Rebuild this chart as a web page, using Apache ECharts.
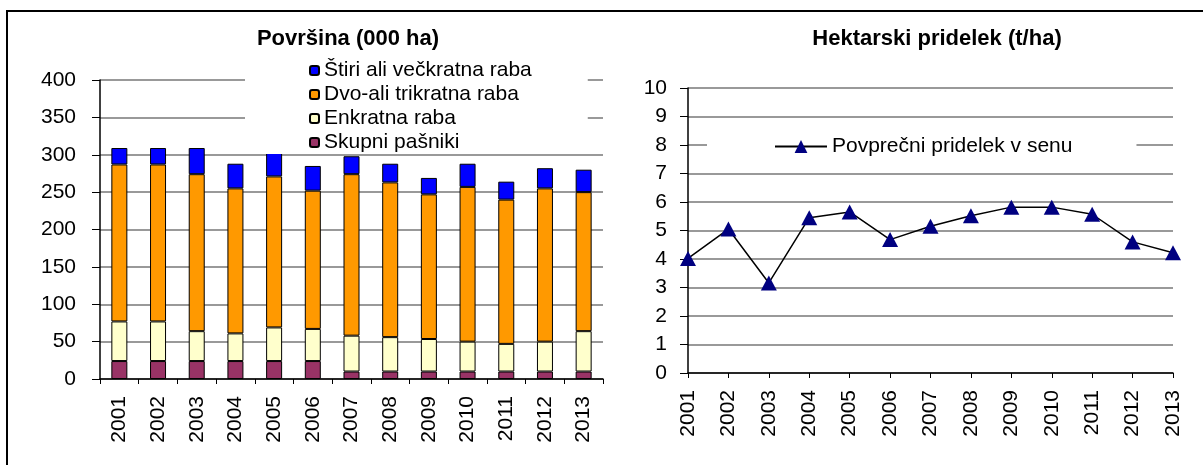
<!DOCTYPE html>
<html>
<head>
<meta charset="utf-8">
<script src="https://cdn.jsdelivr.net/npm/echarts@6/dist/echarts.min.js"></script>
<style>
  html, body { margin: 0; padding: 0; background: #fff; }
  #chart { width: 1203px; height: 465px; }
</style>
</head>
<body>
<div id="chart"></div>
<script>
const years = ['2001', '2002', '2003', '2004', '2005', '2006', '2007', '2008', '2009', '2010', '2011', '2012', '2013']
// površina (000 ha), po načinu rabe
const skupniPasniki = [24, 24, 24, 24, 24, 24, 10, 10, 10, 10, 10, 10, 10]
const enkratnaRaba = [53, 53, 40, 37, 45, 43, 48, 46, 43.5, 40, 37, 40, 54]
const dvoTrikratnaRaba = [210, 210, 210, 194, 202, 185, 216, 207, 193.5, 207, 193, 205, 186]
const stiriVeckratnaRaba = [22, 22, 35, 33, 32, 33, 24, 25, 22, 31, 24, 27, 30]
// hektarski pridelek (t/ha)
const povprecniPridelek = [4.02, 5.05, 3.16, 5.45, 5.65, 4.68, 5.15, 5.52, 5.82, 5.82, 5.57, 4.6, 4.22]

const font = 'Liberation Sans, Arial, sans-serif'
const gridLine = { show: true, lineStyle: { color: '#999', width: 2 } }
const axisLine = { show: true, lineStyle: { color: '#000', width: 1.5 } }

function barSeries (name, data, color) {
  return {
    name: name,
    type: 'bar',
    stack: 'povrsina',
    xAxisIndex: 0,
    yAxisIndex: 0,
    barWidth: 16,
    data: data,
    itemStyle: { color: color, borderColor: '#000', borderWidth: 1 }
  }
}

const chart = echarts.init(document.getElementById('chart'))
const option = {
  animation: false,
  textStyle: { fontFamily: font },
  graphic: [{
    type: 'rect',
    shape: { x: 7, y: 11, width: 1300, height: 600 },
    style: { fill: 'none', stroke: '#000', lineWidth: 2 },
    z: 100
  }],
  title: [
    {
      text: 'Površina (000 ha)',
      left: 343,
      top: 23,
      textAlign: 'center',
      textStyle: { fontFamily: font, fontSize: 22, fontWeight: 'bold', color: '#000' }
    },
    {
      text: 'Hektarski pridelek (t/ha)',
      left: 932,
      top: 23,
      textAlign: 'center',
      textStyle: { fontFamily: font, fontSize: 22, fontWeight: 'bold', color: '#000' }
    }
  ],
  legend: [
    {
      orient: 'vertical',
      left: 245,
      top: 57,
      padding: [3, 56, 1, 64],
      backgroundColor: '#fff',
      itemWidth: 9,
      itemHeight: 9,
      itemGap: 3,
      textStyle: { fontFamily: font, fontSize: 21, color: '#000', lineHeight: 21 },
      data: ['Štiri ali večkratna raba', 'Dvo-ali trikratna raba', 'Enkratna raba', 'Skupni pašniki']
    },
    {
      left: 707,
      top: 125,
      padding: [11, 64, 11, 67],
      backgroundColor: '#fff',
      itemWidth: 52,
      itemHeight: 16,
      textStyle: { fontFamily: font, fontSize: 21, color: '#000' },
      data: ['Povprečni pridelek v senu']
    }
  ],
  grid: [
    { left: 100, top: 80, right: 600, bottom: 86 },
    { left: 688, top: 88, right: 30, bottom: 92 }
  ],
  xAxis: [
    {
      type: 'category',
      gridIndex: 0,
      data: years,
      axisLine: axisLine,
      axisTick: { show: true, length: 5, lineStyle: { color: '#000' } },
      axisLabel: { rotate: 90, margin: 17, fontSize: 21, color: '#000', fontFamily: font }
    },
    {
      type: 'category',
      gridIndex: 1,
      data: years,
      boundaryGap: false,
      axisLine: axisLine,
      axisTick: { show: true, length: 5, lineStyle: { color: '#000' } },
      axisLabel: { rotate: 90, margin: 17, fontSize: 21, color: '#000', fontFamily: font }
    }
  ],
  yAxis: [
    {
      type: 'value',
      gridIndex: 0,
      min: 0,
      max: 400,
      interval: 50,
      axisLine: axisLine,
      axisTick: { show: true, length: 8, lineStyle: { color: '#000' } },
      axisLabel: { margin: 24, fontSize: 21, color: '#000', fontFamily: font },
      splitLine: gridLine
    },
    {
      type: 'value',
      gridIndex: 1,
      min: 0,
      max: 10,
      interval: 1,
      axisLine: axisLine,
      axisTick: { show: true, length: 8, lineStyle: { color: '#000' } },
      axisLabel: { margin: 21, fontSize: 21, color: '#000', fontFamily: font },
      splitLine: gridLine
    }
  ],
  series: [
    barSeries('Skupni pašniki', skupniPasniki, '#993366'),
    barSeries('Enkratna raba', enkratnaRaba, '#ffffcc'),
    barSeries('Dvo-ali trikratna raba', dvoTrikratnaRaba, '#ff9900'),
    barSeries('Štiri ali večkratna raba', stiriVeckratnaRaba, '#0000ff'),
    {
      name: 'Povprečni pridelek v senu',
      type: 'line',
      xAxisIndex: 1,
      yAxisIndex: 1,
      data: povprecniPridelek,
      symbol: 'triangle',
      symbolSize: [16, 15],
      lineStyle: { color: '#000', width: 1.5 },
      itemStyle: { color: '#000080' }
    }
  ]
}
chart.setOption(option)
</script>
</body>
</html>
